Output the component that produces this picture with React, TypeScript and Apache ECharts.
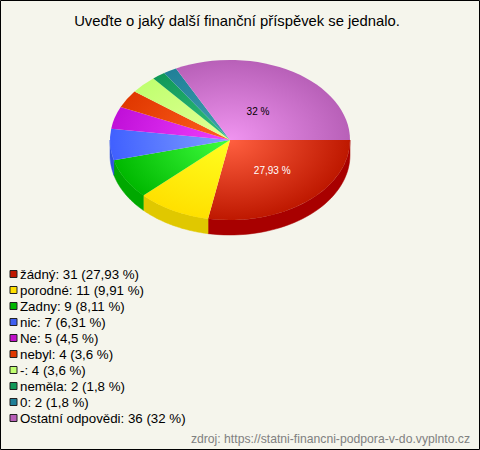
import React, { useEffect, useRef } from "react";
import * as echarts from "echarts";

const categories = ["žádný", "porodné", "Zadny", "nic", "Ne", "nebyl", "-", "neměla", "0", "Ostatní odpovědi"];
const counts = [31, 11, 9, 7, 5, 4, 4, 2, 2, 36];
const percents = ["27,93", "9,91", "8,11", "6,31", "4,5", "3,6", "3,6", "1,8", "1,8", "32"];
const innerColors = ["#FF6040", "#FFFF20", "#40FF40", "#80A0FF", "#F040FF", "#FF6020", "#E4FF98", "#30C080", "#40A0B0", "#F094F0"];
const outerColors = ["#BE1800", "#FFE000", "#00B800", "#4060FF", "#C010D8", "#E03800", "#C0FF70", "#109858", "#208098", "#B860B8"];
const sideColors = ["#A80000", "#E0C800", "#00A800", "#3050E0", "#A800C0", "#C02000", "#A0E050", "#008040", "#106880", "#A050A0"];
const legendColors = ["#C01800", "#FFE000", "#00B800", "#4060F0", "#C010C8", "#E03800", "#C0FF70", "#109858", "#208098", "#B860B8"];
const labelled: Record<number, { color: string; kx: number; ky: number }> = {
  0: { color: "#ffffff", kx: 0.55, ky: 0.49 },
  9: { color: "#000000", kx: 0.445, ky: 0.425 },
};

const W = 480, H = 450, CX = 230, CY = 140, RX = 120, RY = 80, DEPTH = 15;
const total = counts.reduce((a, b) => a + b, 0);
const names = categories.map((c, i) => `${c}: ${counts[i]} (${percents[i]} %)`);

function sliceAngles(i: number) {
  let s = 0;
  for (let k = 0; k < i; k++) s += counts[k];
  return [(s / total) * 2 * Math.PI, ((s + counts[i]) / total) * 2 * Math.PI];
}

function renderSlice(i: number) {
  const [a0, a1] = sliceAngles(i);
  const children: any[] = [];
  const sa = a0, se = Math.min(a1, Math.PI);
  if (sa < Math.PI) {
    const top: number[][] = [], bottom: number[][] = [];
    const n = 40;
    for (let k = 0; k <= n; k++) {
      const t = sa + ((se - sa) * k) / n;
      top.push([CX + RX * Math.cos(t), CY + RY * Math.sin(t)]);
      bottom.unshift([CX + RX * Math.cos(t), CY + RY * Math.sin(t) + DEPTH]);
    }
    children.push({
      type: "polygon",
      shape: { points: top.concat(bottom) },
      style: { fill: sideColors[i], stroke: sideColors[i], lineWidth: 0.5 },
    });
  }
  children.push({
    type: "group",
    x: CX,
    y: CY,
    scaleY: RY / RX,
    children: [
      {
        type: "sector",
        shape: { cx: 0, cy: 0, r0: 0, r: RX, startAngle: a0, endAngle: a1, clockwise: true },
        style: {
          fill: new echarts.graphic.RadialGradient(0, 0, RX, [
            { offset: 0, color: innerColors[i] },
            { offset: 1, color: outerColors[i] },
          ], true),
        },
      },
    ],
  });
  const lab = labelled[i];
  if (lab) {
    const mid = (a0 + a1) / 2;
    children.push({
      type: "text",
      x: CX + RX * lab.kx * Math.cos(mid),
      y: CY + RY * lab.ky * Math.sin(mid),
      style: {
        text: `${percents[i]} %`,
        fill: lab.color,
        font: '10px "Liberation Sans", Arial, sans-serif',
        align: "center",
        verticalAlign: "middle",
      },
    });
  }
  return { type: "group", children };
}

export default function App() {
  const ref = useRef<HTMLDivElement>(null);
  useEffect(() => {
    document.body.style.margin = "0";
    const chart = echarts.init(ref.current!, undefined, { renderer: "svg" });
    chart.setOption({
      animation: false,
      backgroundColor: "#F5F5EC",
      graphic: [
        {
          type: "rect",
          silent: true,
          shape: { x: 0.5, y: 0.5, width: W - 1, height: H - 1 },
          style: { fill: "none", stroke: "#000000", lineWidth: 1 },
          z: 10,
        },
        {
          type: "text",
          x: 237,
          y: 21,
          style: {
            text: "Uveďte o jaký další finanční příspěvek se jednalo.",
            fill: "#000000",
            font: '14.8px "Liberation Sans", Arial, sans-serif',
            align: "center",
            verticalAlign: "middle",
          },
        },
        {
          type: "text",
          x: 470,
          y: 439,
          style: {
            text: "zdroj: https://statni-financni-podpora-v-do.vyplnto.cz",
            fill: "#808080",
            font: '12.2px "Liberation Sans", Arial, sans-serif',
            align: "right",
            verticalAlign: "middle",
          },
        },
      ],
      legend: {
        orient: "vertical",
        left: 9.5,
        top: 267,
        padding: 0,
        itemGap: 2,
        itemWidth: 7,
        itemHeight: 7,
        icon: "rect",
        selectedMode: false,
        textStyle: {
          color: "#000000",
          fontSize: 13.3,
          lineHeight: 14,
          fontFamily: '"Liberation Sans", Arial, sans-serif',
          padding: [0, 0, 0, -2],
        },
        data: names.map((name, i) => ({
          name,
          itemStyle: { color: legendColors[i], borderColor: "#222222", borderWidth: 1 },
        })),
      },
      series: names.map((name, i) => ({
        type: "custom",
        name,
        coordinateSystem: "none",
        silent: true,
        itemStyle: { color: legendColors[i] },
        data: [[counts[i]]],
        renderItem: () => renderSlice(i),
      })),
    });
    return () => chart.dispose();
  }, []);
  return <div ref={ref} style={{ width: W, height: H }} />;
}
